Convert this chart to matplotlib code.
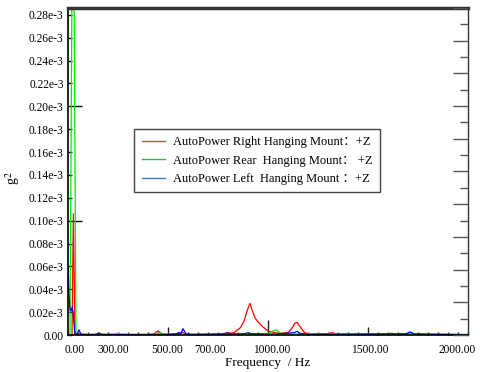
import matplotlib
matplotlib.use("Agg")
import matplotlib.pyplot as plt
from matplotlib.lines import Line2D
import numpy as np

plt.rcParams['font.family'] = ['Liberation Serif', 'Noto Sans CJK SC', 'DejaVu Sans']
plt.rcParams['mathtext.fontset'] = 'stix'

# ---- data (values in units of 1e-3 g^2) ----
freq_red = [0, 20, 27, 35, 50, 100, 200, 300, 400, 430, 450, 470, 500, 550, 570, 585, 600, 700,
            760, 800, 830, 860, 880, 895, 910, 920, 935, 950, 975, 1000, 1030, 1060, 1100, 1120,
            1135, 1145, 1160, 1180, 1200, 1300, 1320, 1340, 1400, 1600, 1620, 1640, 1700, 1720,
            1740, 2000]
val_red = [0.0, 0.0, 0.106, 0.0, 0.001, 0.0005, 0.0005, 0.0005, 0.0005, 0.001, 0.0035, 0.001, 0.0005,
           0.001, 0.0025, 0.001, 0.0005, 0.0005, 0.0012, 0.0015, 0.002, 0.006, 0.012, 0.021, 0.0277,
           0.022, 0.015, 0.0115, 0.007, 0.0035, 0.002, 0.0015, 0.002, 0.006, 0.0105, 0.011, 0.0075,
           0.0025, 0.001, 0.0012, 0.002, 0.001, 0.0005, 0.001, 0.0015, 0.0005, 0.001, 0.0015, 0.0005,
           0.0003]

freq_green = [0, 10, 25, 40, 60, 200, 250, 300, 440, 460, 480, 600, 1000, 1020, 1040, 1060, 1080,
              1700, 1720, 1740, 2000]
val_green = [0.0, 0.0, 0.46, 0.0, 0.0005, 0.0005, 0.001, 0.0005, 0.0005, 0.002, 0.0005, 0.0005,
             0.001, 0.003, 0.0045, 0.002, 0.0008, 0.0008, 0.0015, 0.0005, 0.0005]

freq_blue = [0, 5, 10, 15, 20, 25, 30, 35, 45, 55, 65, 100, 140, 155, 170, 300, 500, 540, 555, 565,
             575, 590, 620, 780, 795, 810, 880, 900, 920, 1000, 1040, 1130, 1145, 1160, 1200, 1690,
             1710, 1730, 2000]
val_blue = [0.061, 0.035, 0.022, 0.021, 0.024, 0.021, 0.01, 0.0005, 0.001, 0.0045, 0.0005, 0.0003,
            0.0005, 0.0018, 0.0005, 0.0003, 0.0005, 0.001, 0.0022, 0.001, 0.0055, 0.001, 0.0005,
            0.0008, 0.002, 0.001, 0.001, 0.002, 0.001, 0.0008, 0.0008, 0.002, 0.0032, 0.0015, 0.0005,
            0.001, 0.0027, 0.001, 0.0003]

legend_labels = ["AutoPower Right Hanging Mount：+Z",
                 "AutoPower Rear  Hanging Mount： +Z",
                 "AutoPower Left  Hanging Mount ：+Z"]

ytick_vals = [0.00, 0.02, 0.04, 0.06, 0.08, 0.10, 0.12, 0.14, 0.16, 0.18, 0.20, 0.22, 0.24, 0.26, 0.28]
xtick_pos = [35, 225, 495, 710, 1020, 1510, 1945]
xtick_labels = ["0.00", "300.00", "500.00", "700.00", "1000.00", "1500.00", "2000.00"]

scale = 1e-3

fig = plt.figure(figsize=(4.81, 3.72), dpi=100)
ax = fig.add_axes([68/481, 1-335/372, 400/481, 327/372])

ax.plot(freq_red, np.array(val_red)*scale, color='#ff0000', lw=0.9)
ax.plot(freq_green, np.array(val_green)*scale, color='#00ee00', lw=0.9)
ax.plot(freq_blue, np.array(val_blue)*scale, color='#0000ff', lw=0.9)

ax.set_xlim(0, 2000)
ax.set_ylim(0, 0.286e-3)

# y ticks
ax.set_yticks([v*scale for v in ytick_vals])
ax.set_yticklabels(["0.00" if v == 0 else f"{v:.2f}e-3" for v in ytick_vals])
ax.tick_params(axis='y', direction='in', length=3, width=1, pad=3, labelsize=8.3, colors='black')
for t, v in zip(ax.yaxis.get_major_ticks(), ytick_vals):
    if abs(v - 0.10) < 1e-9 or abs(v - 0.20) < 1e-9:
        t.tick1line.set_markersize(10)

# x ticks
ax.set_xticks(xtick_pos)
ax.set_xticklabels(xtick_labels)
ax.tick_params(axis='x', which='major', length=0, pad=6.5, labelsize=8.3)
minor_x = list(range(0, 2001, 50))
ax.set_xticks(minor_x, minor=True)
ax.tick_params(axis='x', which='minor', direction='in', length=2.2, width=1, color='#222222')
for t, v in zip(ax.xaxis.get_minor_ticks(), minor_x):
    if v == 1000:
        t.tick1line.set_markersize(11)
    elif v in (500, 1500):
        t.tick1line.set_markersize(5.8)

# right-side ticks
ax2 = ax.twinx()
ax2.set_ylim(0, 20)
rvals = list(range(21))
ax2.set_yticks(rvals)
ax2.tick_params(axis='y', direction='in', length=5.5, width=1, labelright=False, color='#555555')
for t, v in zip(ax2.yaxis.get_major_ticks(), rvals):
    if v % 2 == 0:
        t.tick2line.set_markersize(10.5)
for s in ax2.spines.values():
    s.set_visible(False)

# spines
ax.spines['top'].set_linewidth(2.5)
ax.spines['top'].set_color('#333333')
ax.spines['left'].set_linewidth(1.2)
ax.spines['bottom'].set_linewidth(1.2)
ax.spines['right'].set_linewidth(1.0)
ax.spines['right'].set_color('#333333')

ax.set_xlabel("Frequency  / Hz", fontsize=9.5, labelpad=0.5)
ax.set_ylabel("g$^{2}$", fontsize=10, rotation=90)
ax.yaxis.set_label_coords(-46/400, 0.48)

handles = [Line2D([], [], color='#f03a3a', lw=1),
           Line2D([], [], color='#35b055', lw=1),
           Line2D([], [], color='#3a78c8', lw=1)]
leg = ax.legend(handles, legend_labels, loc='upper left', bbox_to_anchor=(0.165, 0.63),
                fontsize=9, frameon=True, fancybox=False, framealpha=1, edgecolor='#444444',
                handlelength=1.9, handletextpad=0.6, labelspacing=0.5, borderpad=0.6,
                borderaxespad=0)
leg.get_frame().set_linewidth(1.0)

fig.savefig("out.png", dpi=100)
